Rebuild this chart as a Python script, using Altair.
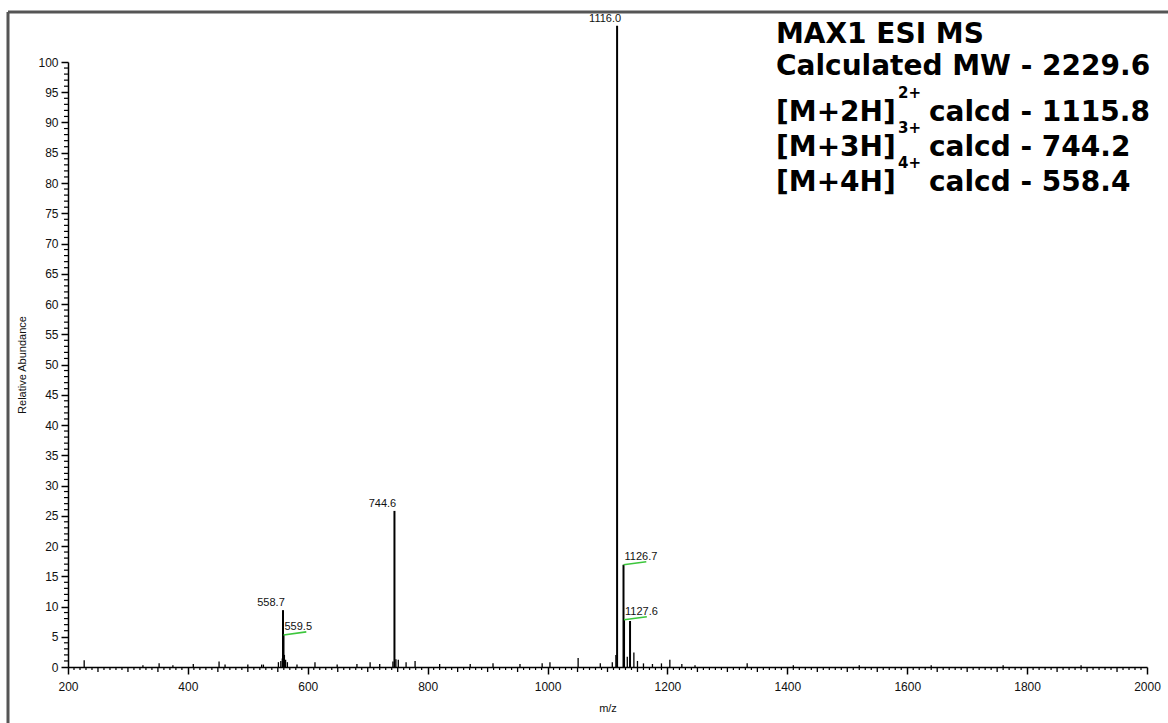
import altair as alt
import pandas as pd

# ---- spectrum data (m/z, relative abundance) ----
# labelled / main peaks (the base peak is drawn running past the 100 tick)
peak_mz = [558.7, 559.5, 744.6, 1116.0, 1126.7, 1127.6, 1137.6]
peak_ab = [9.4, 5.3, 25.8, 106.0, 16.9, 7.8, 7.6]

# smaller ions and baseline noise
noise_mz = [227, 325, 352, 375, 409, 452, 462, 500, 523, 526, 551, 555, 557.5,
            561, 563, 566, 582, 612, 649, 682, 704, 720, 742, 747, 751, 764,
            779, 820, 871, 909, 954, 991, 1004, 1051, 1088, 1108, 1114, 1133,
            1144, 1150, 1160, 1175, 1190, 1204, 1224, 1246, 1333, 1410, 1520,
            1640, 1760, 1890]
noise_ab = [1.1, 0.3, 0.6, 0.3, 0.5, 0.9, 0.4, 0.4, 0.4, 0.4, 0.8, 1.0, 1.4,
            2.0, 1.2, 0.8, 0.4, 0.8, 0.4, 0.5, 0.8, 0.5, 0.9, 1.3, 1.2, 0.8,
            1.0, 0.5, 0.5, 0.6, 0.5, 0.6, 0.8, 1.5, 0.6, 0.8, 2.0, 1.7,
            2.4, 1.0, 0.6, 0.5, 0.6, 1.2, 0.5, 0.3, 0.6, 0.3, 0.3,
            0.3, 0.3, 0.3]

# peak labels placed above the peak
top_label_mz = [558.7, 744.6, 1116.0]
top_label_ab = [9.4, 25.8, 106.0]
top_label_txt = ["558.7", "744.6", "1116.0"]

# peak labels with a green leader line
flag_label_mz = [559.5, 1126.7, 1127.6]
flag_label_ab = [5.3, 16.9, 7.8]
flag_label_txt = ["559.5", "1126.7", "1127.6"]
flag_len = 38  # leader length in m/z units

# axis tick values
x_major = list(range(200, 2001, 200))
x_mid = [v for v in range(200, 2001, 50) if v % 200 != 0]
x_minor = [v for v in range(200, 2001, 10) if v % 50 != 0]
y_major = list(range(0, 101, 5))
y_minor = [v for v in range(0, 101) if v % 5 != 0]

# annotation text block
info_lines = ["MAX1 ESI MS", "Calculated MW - 2229.6"]
ion_names = ["[M+2H]", "[M+3H]", "[M+4H]"]
ion_charges = ["2+", "3+", "4+"]
ion_calcd = ["calcd - 1115.8", "calcd - 744.2", "calcd - 558.4"]

W, H = 1079, 605
FONT = "Liberation Sans"
BLOCK_FONT = "DejaVu Sans"

x_scale = alt.Scale(domain=[200, 2000], nice=False, zero=False)
y_scale = alt.Scale(domain=[0, 100], nice=False)

x_axis = alt.Axis(values=x_major, title="m/z", grid=False, format="d",
                  domainColor="black", domainWidth=1.5, tickColor="black",
                  tickWidth=1.5, tickSize=7, labelFont=FONT, labelFontSize=12,
                  labelColor="#111", labelPadding=7, labelFlush=False,
                  titleFont=FONT, titleFontSize=11, titleFontWeight="normal",
                  titleColor="#111", titlePadding=10)
y_axis = alt.Axis(values=y_major, title="Relative Abundance", grid=False,
                  domainColor="black", domainWidth=1.5, tickColor="black",
                  tickWidth=1.5, tickSize=7, labelFont=FONT, labelFontSize=12,
                  labelColor="#111", labelPadding=3, labelFlush=False,
                  titleFont=FONT, titleFontSize=11, titleFontWeight="normal",
                  titleColor="#111", titlePadding=10)

X = alt.X("mz:Q", scale=x_scale, axis=x_axis)
Y = alt.Y("ab:Q", scale=y_scale, axis=y_axis)

noise_df = pd.DataFrame({"mz": noise_mz, "ab": noise_ab})
peak_df = pd.DataFrame({"mz": peak_mz, "ab": peak_ab})

noise = alt.Chart(noise_df).mark_rule(color="black", strokeWidth=1.3).encode(
    x=X, y=Y, y2=alt.datum(0))
peaks = alt.Chart(peak_df).mark_rule(color="black", strokeWidth=2).encode(
    x=X, y=Y, y2=alt.datum(0))

# minor tick marks along the axes
xmid_df = pd.DataFrame({"mz": x_mid})
xmin_df = pd.DataFrame({"mz": x_minor})
ymin_df = pd.DataFrame({"ab": y_minor})
xmid_ticks = alt.Chart(xmid_df).mark_rule(color="black", strokeWidth=1.3).encode(
    x=X, y=alt.value(H), y2=alt.value(H + 5))
xmin_ticks = alt.Chart(xmin_df).mark_rule(color="black", strokeWidth=1.2).encode(
    x=X, y=alt.value(H), y2=alt.value(H + 3))
ymin_ticks = alt.Chart(ymin_df).mark_rule(color="black", strokeWidth=1.2).encode(
    y=Y, x=alt.value(0), x2=alt.value(-4))

# peak labels
top_df = pd.DataFrame({"mz": top_label_mz, "ab": top_label_ab, "label": top_label_txt})
top_text = alt.Chart(top_df).mark_text(font=FONT, fontSize=11, color="#111",
                                       dx=-12, dy=-2, baseline="bottom").encode(
    x=X, y=Y, text="label:N")

flag_df = pd.DataFrame({"mz": flag_label_mz, "ab": flag_label_ab,
                        "label": flag_label_txt})
flag_df["mz2"] = flag_df["mz"] + flag_len
flag_df["ab2"] = flag_df["ab"] + 0.5
flag_lines = alt.Chart(flag_df).mark_rule(color="#3cc63c", strokeWidth=1.6).encode(
    x=X, x2="mz2:Q", y=Y, y2="ab2:Q")
flag_text = alt.Chart(flag_df).mark_text(font=FONT, fontSize=11, color="#111",
                                         align="left", dx=1, dy=-3,
                                         baseline="bottom").encode(
    x=X, y=Y, text="label:N")

# outer frame (top and left edges visible)
frame_top = alt.Chart(alt.Data(values=[{}])).mark_rule(
    color="#555", strokeWidth=3).encode(
    x=alt.value(-60), x2=alt.value(W + 40), y=alt.value(-50))
frame_left = alt.Chart(alt.Data(values=[{}])).mark_rule(
    color="#555", strokeWidth=3).encode(
    x=alt.value(-60), y=alt.value(-50), y2=alt.value(H + 80))

# annotation block
TX = 708
BIG = 28
SMALL = 15
texts = []
for i, line in enumerate(info_lines):
    texts.append(alt.Chart(alt.Data(values=[{}])).mark_text(
        text=line, font=BLOCK_FONT, fontSize=BIG, fontWeight="bold", align="left",
        baseline="middle", color="black").encode(
        x=alt.value(TX), y=alt.value(-27 + 32 * i)))
for i in range(3):
    yl = 51 + 35 * i
    texts.append(alt.Chart(alt.Data(values=[{}])).mark_text(
        text=ion_names[i], font=BLOCK_FONT, fontSize=BIG, fontWeight="bold",
        align="left", baseline="middle", color="black").encode(
        x=alt.value(TX), y=alt.value(yl)))
    texts.append(alt.Chart(alt.Data(values=[{}])).mark_text(
        text=ion_charges[i], font=BLOCK_FONT, fontSize=SMALL, fontWeight="bold",
        align="left", baseline="middle", color="black").encode(
        x=alt.value(TX + 122), y=alt.value(yl - 20)))
    texts.append(alt.Chart(alt.Data(values=[{}])).mark_text(
        text=ion_calcd[i], font=BLOCK_FONT, fontSize=BIG, fontWeight="bold",
        align="left", baseline="middle", color="black").encode(
        x=alt.value(TX + 153), y=alt.value(yl)))

chart = alt.layer(
    frame_top, frame_left, xmin_ticks, xmid_ticks, ymin_ticks,
    noise, peaks, flag_lines, flag_text, top_text, *texts
).properties(
    width=W, height=H,
    padding={"left": 68, "top": 62, "right": 21, "bottom": 56},
    autosize=alt.AutoSizeParams(type="none"),
    background="white",
).configure_view(stroke=None)

chart.save("out.html", embed_options={"renderer": "svg", "actions": False})
